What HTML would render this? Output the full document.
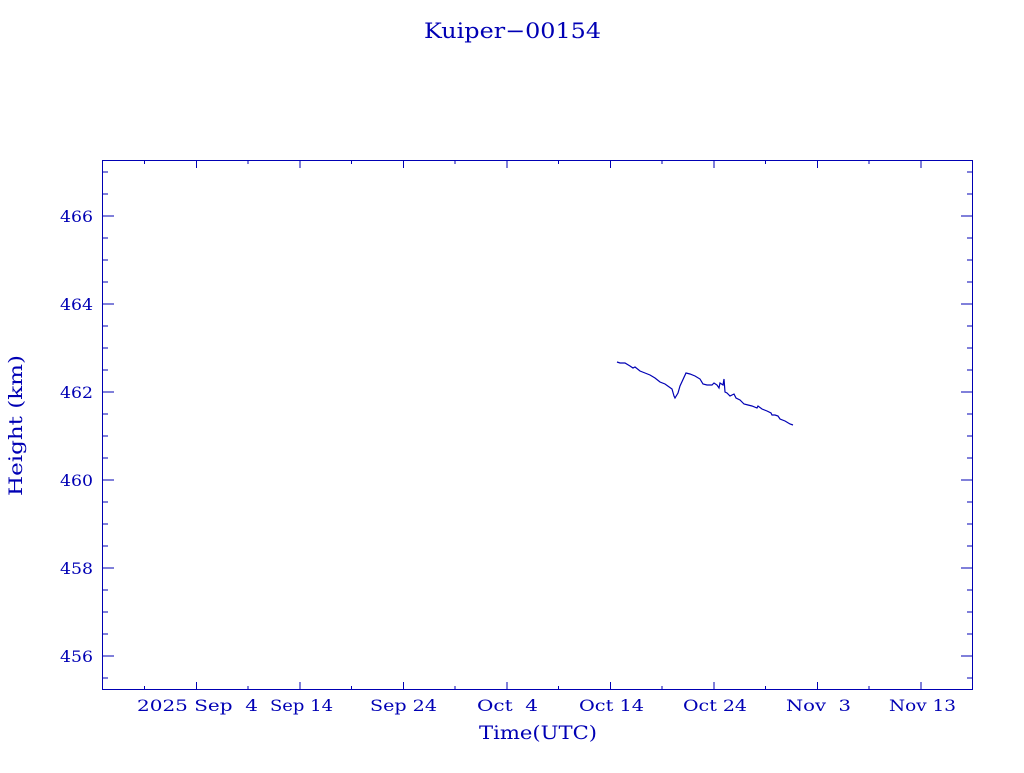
<!DOCTYPE html>
<html><head><style>body{margin:0;background:#fff}svg text{font-family:"DejaVu Serif","Liberation Serif",serif;fill:#0000b4;white-space:pre}</style></head><body>
<svg width="1024" height="768" xmlns="http://www.w3.org/2000/svg">
<text x="424" y="38" font-size="21" textLength="177" lengthAdjust="spacingAndGlyphs">Kuiper−00154</text>
<rect x="102.5" y="160.5" width="870" height="529" fill="none" stroke="#0000b4" stroke-width="1"/>
<g stroke="#0000b4" stroke-width="1">
<path d="M102 216h12M102 304h12M102 392h12M102 480h12M102 568h12M102 656h12M973 216h-12M973 304h-12M973 392h-12M973 480h-12M973 568h-12M973 656h-12"/>
<path d="M102 172h6M102 194h6M102 238h6M102 260h6M102 282h6M102 326h6M102 348h6M102 370h6M102 414h6M102 436h6M102 458h6M102 502h6M102 524h6M102 546h6M102 590h6M102 612h6M102 634h6M102 678h6M973 172h-6M973 194h-6M973 238h-6M973 260h-6M973 282h-6M973 326h-6M973 348h-6M973 370h-6M973 414h-6M973 436h-6M973 458h-6M973 502h-6M973 524h-6M973 546h-6M973 590h-6M973 612h-6M973 634h-6M973 678h-6"/>
<path d="M196.5 690v-8M300 690v-8M403.5 690v-8M507 690v-8M610.5 690v-8M714 690v-8M817.5 690v-8M921 690v-8M196.5 160v8M300 160v8M403.5 160v8M507 160v8M610.5 160v8M714 160v8M817.5 160v8M921 160v8"/>
<path d="M144.5 690v-4M248 690v-4M351.5 690v-4M455 690v-4M558.5 690v-4M662 690v-4M765.5 690v-4M869 690v-4M144.5 160v4M248 160v4M351.5 160v4M455 160v4M558.5 160v4M662 160v4M765.5 160v4M869 160v4"/>
</g>
<g font-size="16">
<text x="60" y="222" textLength="33" lengthAdjust="spacingAndGlyphs">466</text><text x="60" y="310" textLength="33" lengthAdjust="spacingAndGlyphs">464</text><text x="60" y="398" textLength="33" lengthAdjust="spacingAndGlyphs">462</text><text x="60" y="486" textLength="33" lengthAdjust="spacingAndGlyphs">460</text><text x="60" y="574" textLength="33" lengthAdjust="spacingAndGlyphs">458</text><text x="60" y="662" textLength="33" lengthAdjust="spacingAndGlyphs">456</text>
</g>
<g font-size="16">
<text x="137" y="711" textLength="121" lengthAdjust="spacingAndGlyphs">2025 Sep  4</text>
<text x="270" y="711" textLength="63" lengthAdjust="spacingAndGlyphs">Sep 14</text>
<text x="370" y="711" textLength="67" lengthAdjust="spacingAndGlyphs">Sep 24</text>
<text x="477" y="711" textLength="61" lengthAdjust="spacingAndGlyphs">Oct  4</text>
<text x="579" y="711" textLength="65" lengthAdjust="spacingAndGlyphs">Oct 14</text>
<text x="683" y="711" textLength="64" lengthAdjust="spacingAndGlyphs">Oct 24</text>
<text x="786" y="711" textLength="65" lengthAdjust="spacingAndGlyphs">Nov  3</text>
<text x="889" y="711" textLength="67" lengthAdjust="spacingAndGlyphs">Nov 13</text>
</g>
<text x="479" y="739" font-size="19" textLength="118" lengthAdjust="spacingAndGlyphs">Time(UTC)</text>
<text transform="translate(22,496) rotate(-90)" font-size="19" textLength="141" lengthAdjust="spacingAndGlyphs">Height (km)</text>
<polyline fill="none" stroke="#0000b4" stroke-width="1.2" points="617,362 620,363 625,363 630,366 633,368 635,367 640,371 645,373 650,375 655,378 660,382 665,384 672,389 674,396 675,398 678,393 680,386 686,373 690,374 695,376 700,379 703,384 707,385 712,385 714,383 717,385 719,388 720,383 723,385 724,379 725,392 727,393 730,396 734,394 736,398 740,400 744,404 748,405 752,406 757,408 758,406 762,409 767,411 771,413 772,415 775,415 778,416 780,419 785,421 790,424 793,425"/>
</svg>
</body></html>
